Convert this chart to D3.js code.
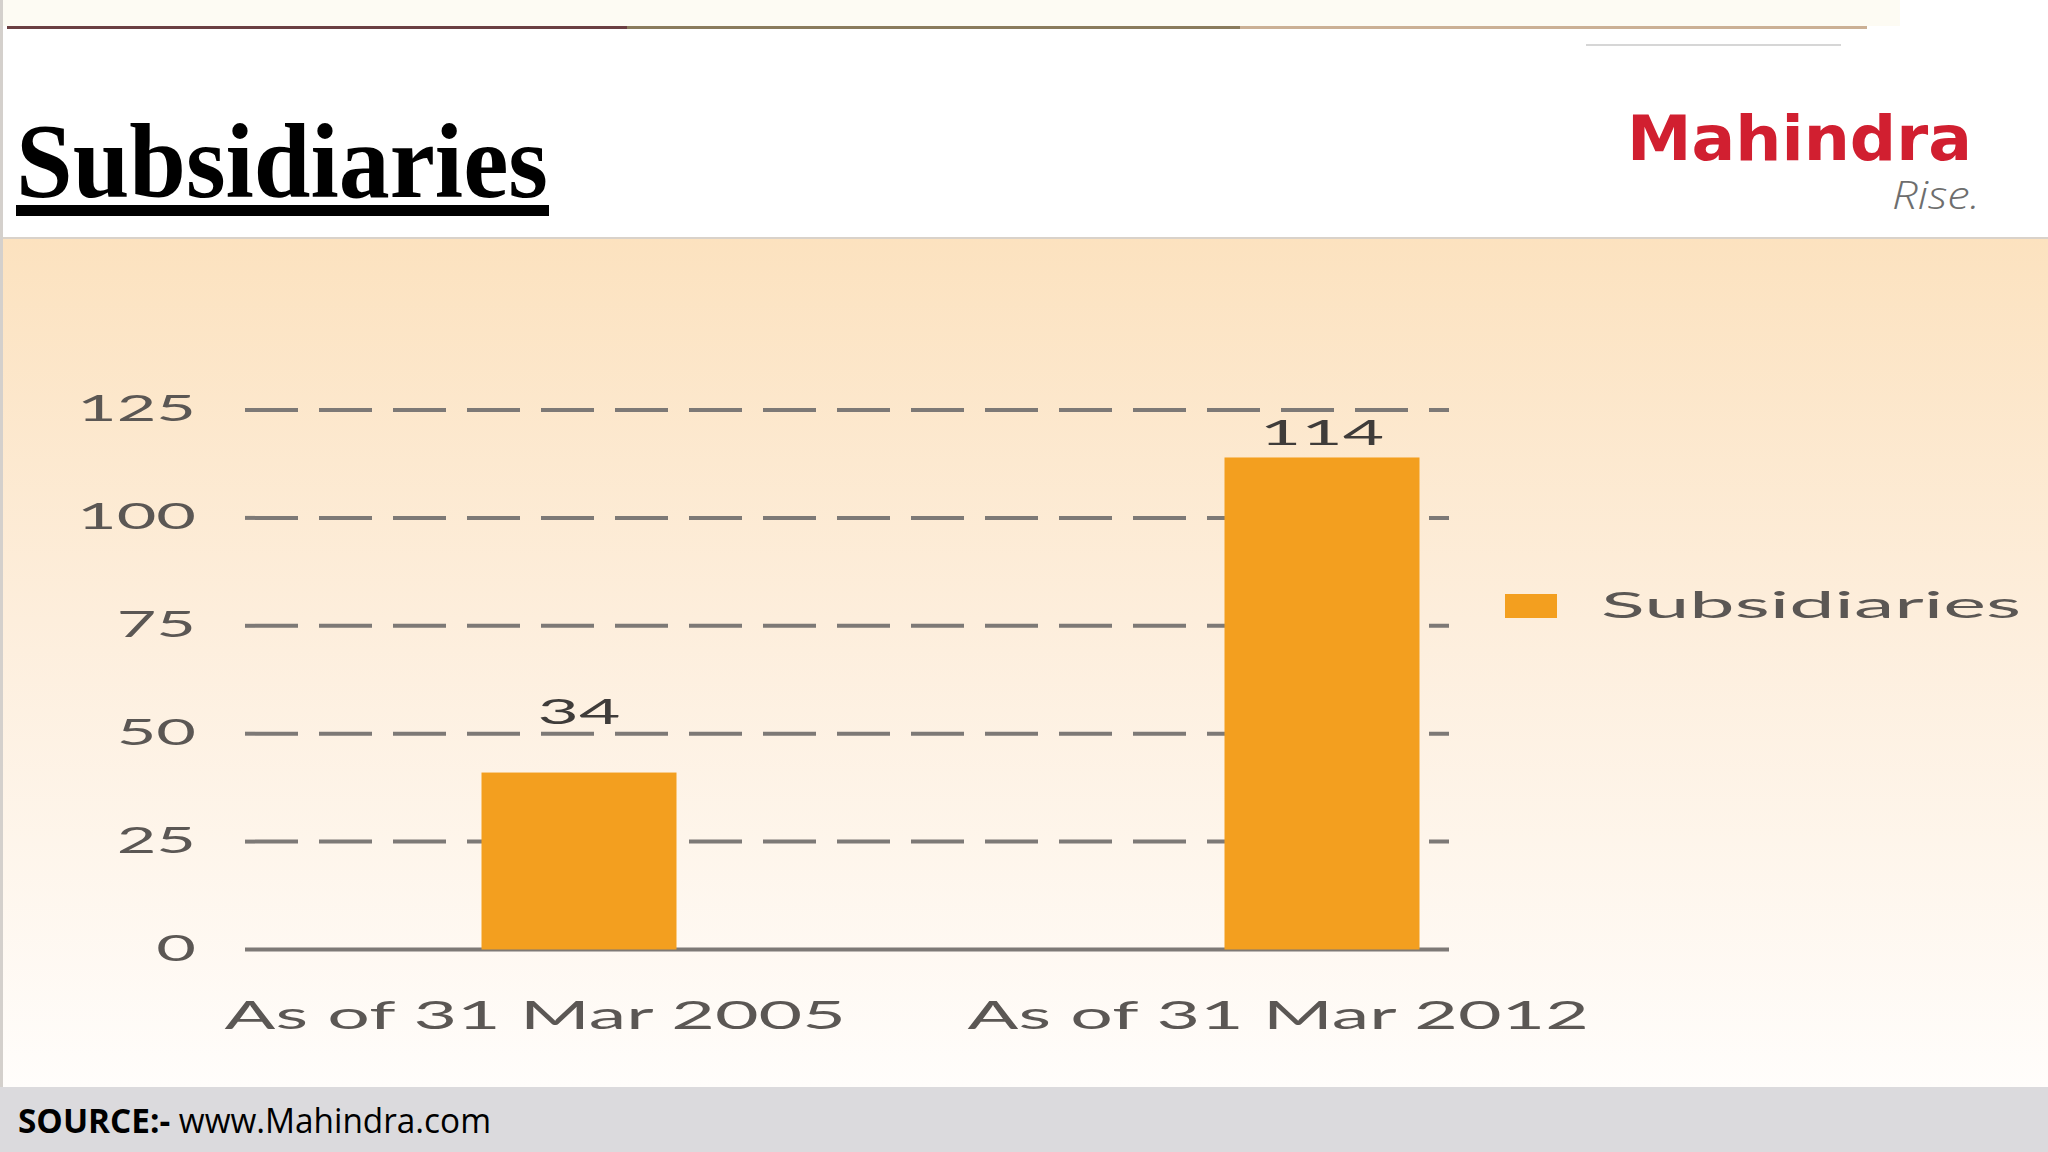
<!DOCTYPE html>
<html><head><meta charset="utf-8">
<script src="https://cdn.jsdelivr.net/npm/d3@7"></script>
<style>html,body{margin:0;padding:0;background:#fff;overflow:hidden} svg{display:block}</style>
</head><body>
<svg id="c" width="2048" height="1152"></svg>
<script>
// ---- data ----
const categories = ["As of 31 Mar 2005", "As of 31 Mar 2012"];
const valueLabels = ["34", "114"];
const barHeights = [41, 114];          // bar heights as drawn in the source picture
const yTicks = [0, 25, 50, 75, 100, 125];
const seriesName = "Subsidiaries";
const titleText = "Subsidiaries";
const sourceBold = "SOURCE:-";
const sourceRest = " www.Mahindra.com";

// ---- layout ----
const W = 2048, H = 1152;
const svg = d3.select("#c");
const defs = svg.append("defs");
const grad = defs.append("linearGradient").attr("id","bg").attr("x1",0).attr("y1",0).attr("x2",0).attr("y2",1);
grad.append("stop").attr("offset","0%").attr("stop-color","#fce2bf");
grad.append("stop").attr("offset","45%").attr("stop-color","#fdeedc");
grad.append("stop").attr("offset","100%").attr("stop-color","#fffdfb");

// header
svg.append("rect").attr("x",0).attr("y",0).attr("width",W).attr("height",238).attr("fill","#ffffff");
svg.append("rect").attr("x",0).attr("y",0).attr("width",1900).attr("height",26).attr("fill","#fdfbf3");
const topSeg = [[7,627,"#6b3f42"],[627,1240,"#8a7b5c"],[1240,1867,"#cbb095"]];
topSeg.forEach(s => svg.append("rect").attr("x",s[0]).attr("y",26).attr("width",s[1]-s[0]).attr("height",3).attr("fill",s[2]));
svg.append("rect").attr("x",1586).attr("y",44).attr("width",255).attr("height",2).attr("fill","#d6d6d6");

// chart panel
svg.append("rect").attr("x",0).attr("y",238).attr("width",W).attr("height",849).attr("fill","url(#bg)");
svg.append("rect").attr("x",0).attr("y",237).attr("width",W).attr("height",2).attr("fill","#d9d2ca");
svg.append("rect").attr("x",0).attr("y",0).attr("width",3).attr("height",1087).attr("fill","#d4d0cc");

// footer
svg.append("rect").attr("x",0).attr("y",1087).attr("width",W).attr("height",65).attr("fill","#dbdadd");
const src = svg.append("text").attr("x",18).attr("y",1133)
  .attr("font-family","'Open Sans', 'Liberation Sans', sans-serif").attr("font-size",34).attr("fill","#000");
src.append("tspan").attr("font-weight","bold").text(sourceBold);
src.append("tspan").text(sourceRest);
src.attr("textLength",473).attr("lengthAdjust","spacingAndGlyphs");

// title
svg.append("text").attr("x",16).attr("y",197)
  .attr("font-family","'Liberation Serif', 'Times New Roman', serif").attr("font-weight","bold")
  .attr("font-size",106).attr("fill","#000")
  .attr("textLength",532).attr("lengthAdjust","spacingAndGlyphs").text(titleText);
svg.append("rect").attr("x",16).attr("y",205).attr("width",533).attr("height",11).attr("fill","#000");

// logo
svg.append("text").attr("x",1627).attr("y",160)
  .attr("font-family","'DejaVu Sans', sans-serif").attr("font-weight","bold").attr("font-size",62)
  .attr("fill","#d11f30").attr("textLength",345).attr("lengthAdjust","spacingAndGlyphs").text("Mahindra");
svg.append("text").attr("x",1892).attr("y",209)
  .attr("font-family","'Open Sans', sans-serif").attr("font-style","italic").attr("font-weight",300).attr("font-size",38)
  .attr("fill","#6e6e6e").attr("textLength",88).attr("lengthAdjust","spacingAndGlyphs").text("Rise.");

// scales
const gx0 = 245, gx1 = 1449;
const x = d3.scalePoint().domain(categories).range([579, 1322]);
const y = d3.scaleLinear().domain([0, 125]).range([949.5, 410]);
const barW = 195;
const FONT = "Lato, 'Open Sans', sans-serif";
const TXT = "#5b5754";
const stretch = k => function(){ const n = this.getComputedTextLength(); d3.select(this).attr("textLength", n*k).attr("lengthAdjust","spacingAndGlyphs"); };

// gridlines
const grid = svg.append("g");
grid.selectAll("line").data(yTicks).join("line")
  .attr("x1", gx0).attr("x2", gx1)
  .attr("y1", d => y(d)).attr("y2", d => y(d))
  .attr("stroke", "#7d7976").attr("stroke-width", 4)
  .attr("stroke-dasharray", d => d === 0 ? null : "53 21");

// y axis labels via d3 axis
const yAxis = svg.append("g").attr("transform", `translate(${gx0},0)`)
  .call(d3.axisLeft(y).tickValues(yTicks).tickSize(0).tickPadding(49));
yAxis.select(".domain").remove();
yAxis.selectAll("text").attr("font-family", FONT).attr("font-size", 36).attr("fill", TXT)
  .attr("dy", "0.3em").each(stretch(1.9));

// bars
svg.append("g").selectAll("rect").data(categories).join("rect")
  .attr("x", d => x(d) - barW/2).attr("width", barW)
  .attr("y", (d,i) => y(barHeights[i])).attr("height", (d,i) => y(0) - y(barHeights[i]))
  .attr("fill", "#f39f1f");

// value labels
const labelGap = [49, 12];
svg.append("g").selectAll("text").data(categories).join("text")
  .attr("x", d => x(d)).attr("y", (d,i) => y(barHeights[i]) - labelGap[i])
  .attr("text-anchor","middle").attr("font-family", FONT).attr("font-size", 34).attr("fill","#3f3c3a")
  .text((d,i) => valueLabels[i]).each(stretch(2.1));

// x axis labels via d3 axis
const xAxis = svg.append("g").attr("transform", `translate(0,${y(0)})`)
  .call(d3.axisBottom(x).tickSize(0).tickPadding(0));
xAxis.select(".domain").remove();
xAxis.selectAll("text").attr("font-family", FONT).attr("font-size", 39).attr("fill", TXT)
  .attr("text-anchor", "start")
  .attr("y", 79).attr("dy", 0).attr("dx", -355).each(stretch(1.93));

// legend
const lg = svg.append("g");
lg.append("rect").attr("x",1505).attr("y",594).attr("width",52).attr("height",24).attr("fill","#f39f1f");
lg.append("text").attr("x",1601).attr("y",618).attr("font-family",FONT).attr("font-size",36).attr("fill",TXT)
  .attr("textLength",420).attr("lengthAdjust","spacingAndGlyphs").text(seriesName);
</script>
</body></html>
